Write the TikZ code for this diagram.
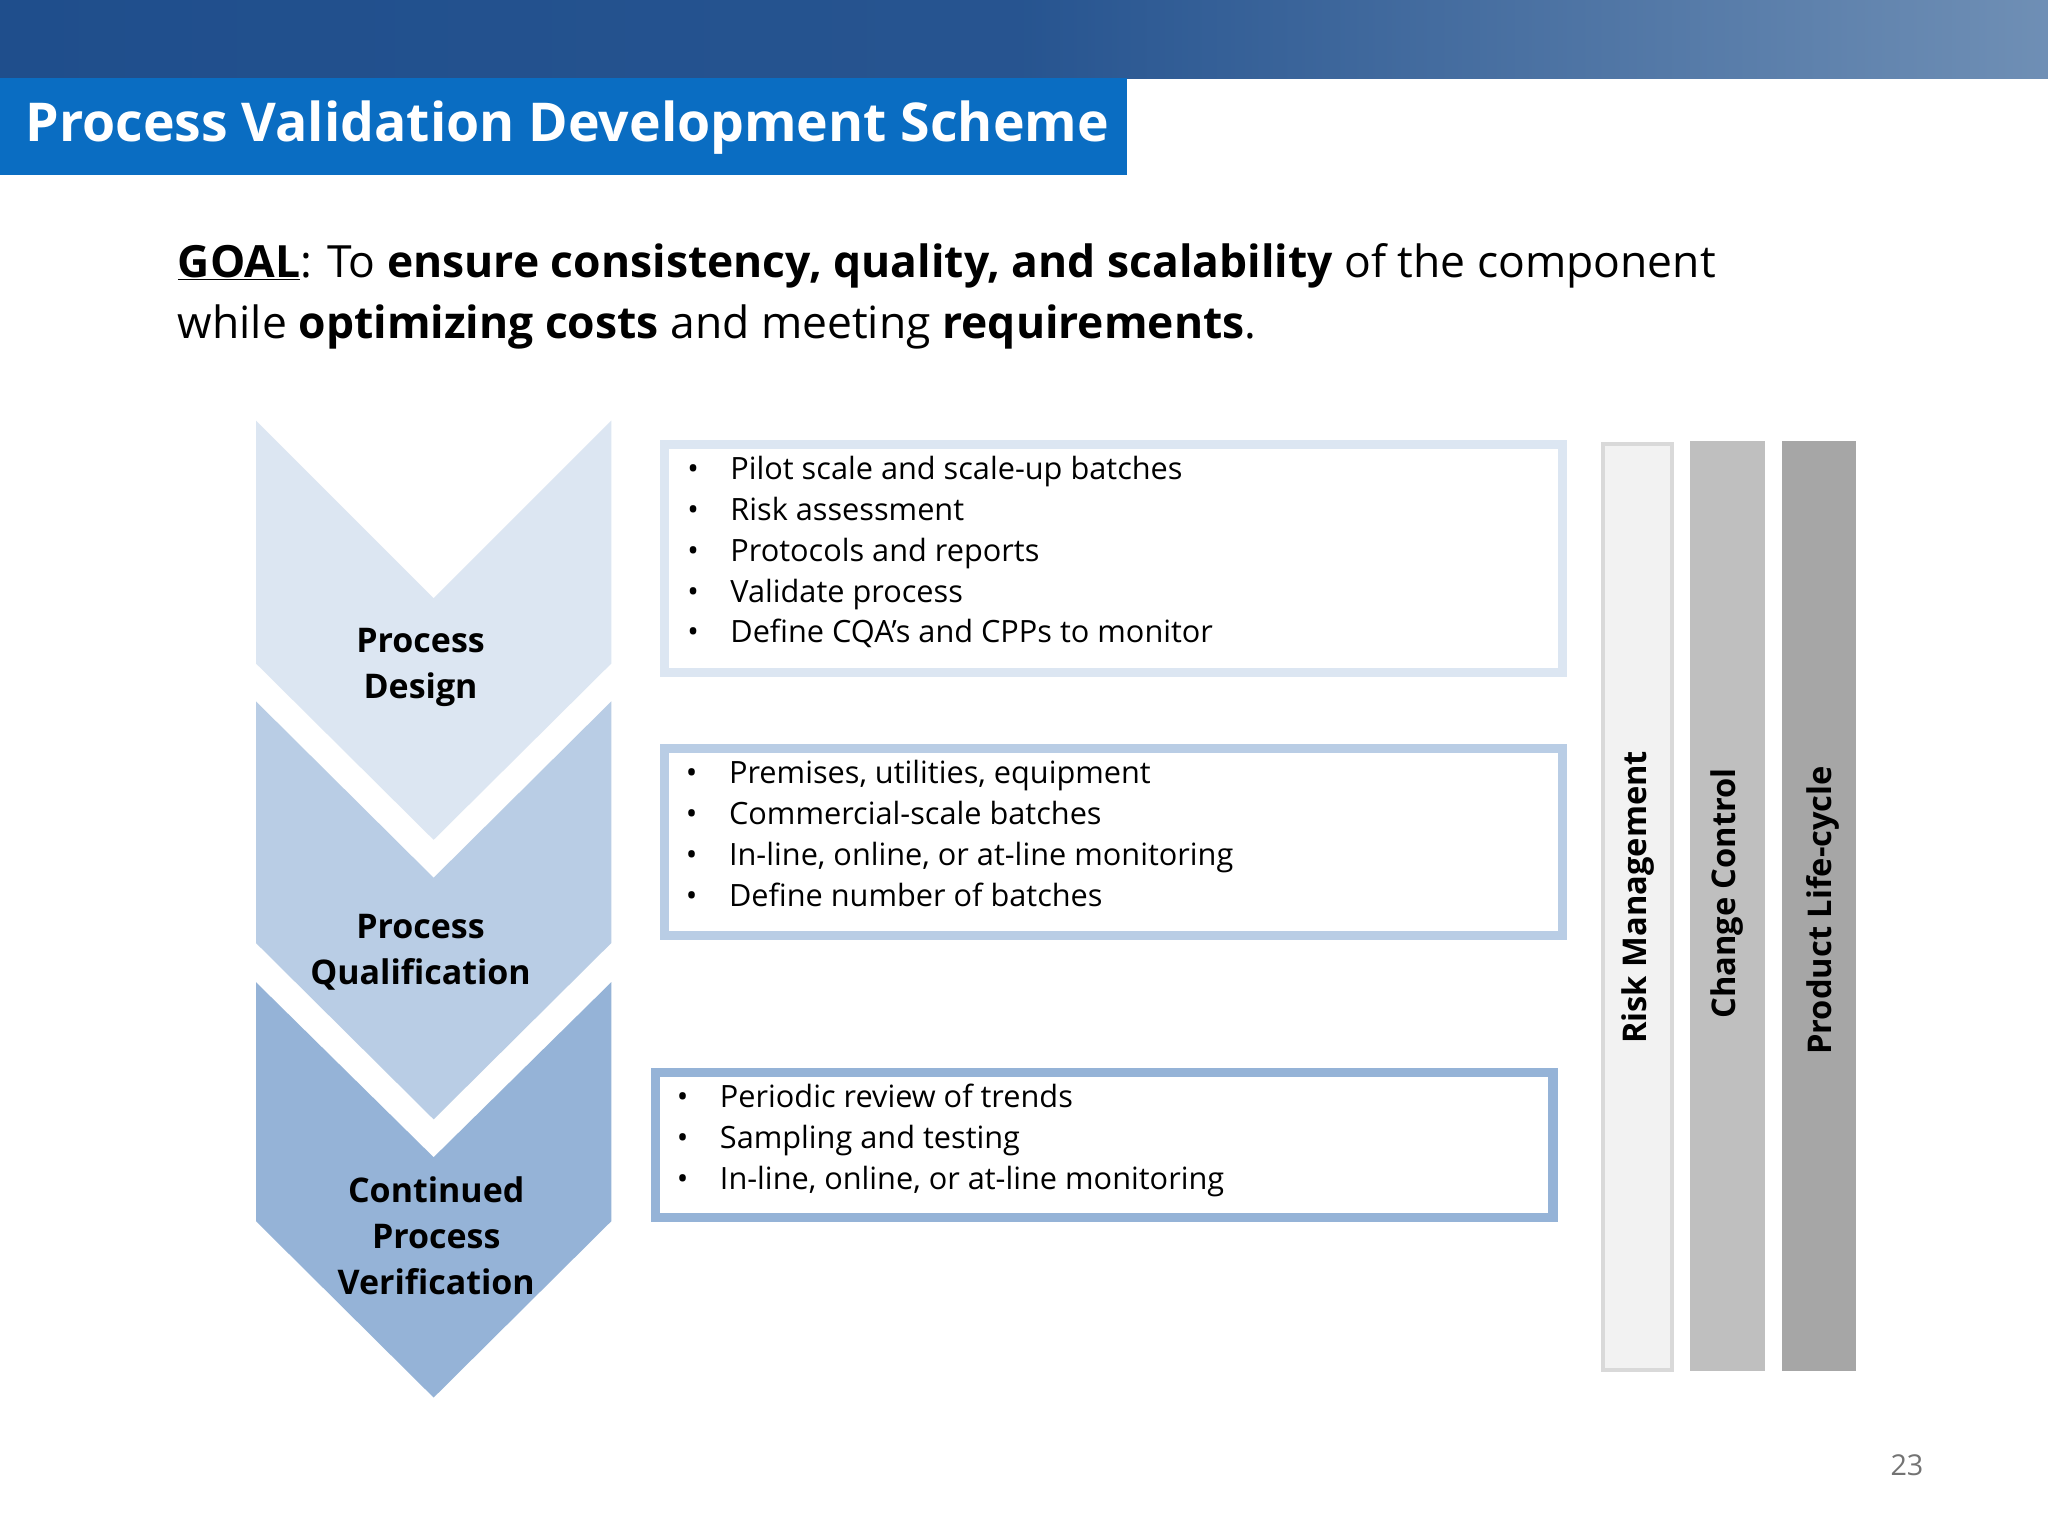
\documentclass[tikz,border=0pt]{standalone}
\usepackage{fontspec}
\setmainfont{Open Sans}
\usetikzlibrary{calc}
\definecolor{band}{HTML}{1F4E8C}
\definecolor{bandr}{HTML}{6F8FB5}
\definecolor{titlebl}{HTML}{0A6DC2}
\definecolor{cA}{HTML}{DCE6F2}
\definecolor{cB}{HTML}{B9CDE5}
\definecolor{cC}{HTML}{95B3D7}
\tikzset{
 lbl/.style={font=\fontsize{26}{35}\selectfont\bfseries,align=center,text=black},
 bl/.style={anchor=north west,font=\fontsize{23.5}{31.3}\selectfont,align=left,text=black,inner sep=0pt},
 tbox/.style={line width=7pt},
 bar/.style={line width=0pt},
 vt/.style={rotate=90,font=\fontsize{25}{30}\selectfont\bfseries,text=black}
}
\newcommand{\bul}{\makebox[33pt][l]{•}}
\begin{document}
\begin{tikzpicture}[x=1pt,y=-1pt]
\useasboundingbox (0,0) rectangle (1568,1176);
\fill[white] (0,0) rectangle (1568,1176);
\shade[left color=band,right color=bandr,middle color=band!90!bandr] (0,0) rectangle (1568,60);
\fill[titlebl] (0,60) rectangle (863,134);
\node[anchor=west,text=white,font=\fontsize{41}{48}\selectfont\bfseries] (title) at (16,98) {Process Validation Development Scheme};
\node[anchor=north west,align=left,inner sep=0pt,font=\fontsize{34}{47}\selectfont] (goal) at (136,186)
 {\textbf{\underline{GOAL}}: To \textbf{ensure consistency, quality, and scalability} of the component\\
 while \textbf{optimizing costs} and meeting \textbf{requirements}.};
% chevrons
\fill[cC] (196,752) -- (332,886) -- (468,752) -- (468,935) -- (332,1070) -- (196,935) -- cycle;
\fill[cB] (196,537) -- (332,672) -- (468,537) -- (468,722) -- (332,857) -- (196,722) -- cycle;
\fill[cA] (196,322) -- (332,458) -- (468,322) -- (468,508) -- (332,643) -- (196,508) -- cycle;
\node[lbl] (pd) at (322,511) {Process\\Design};
\node[lbl] (pq) at (322,729) {Process\\Qualification};
\node[lbl] (cpv) at (334,946) {Continued\\Process\\Verification};
% boxes
\draw[tbox,cA,fill=white] (509,340) rectangle (1196,515);
\draw[tbox,cB,fill=white] (509,573) rectangle (1196,716);
\draw[tbox,cC,fill=white] (502,821) rectangle (1189,932);
\node[bl] (t1) at (526,349) {\bul Pilot scale and scale-up batches\\\bul Risk assessment\\\bul Protocols and reports\\\bul Validate process\\\bul Define CQA’s and CPPs to monitor};
\node[bl] (t2) at (525,582) {\bul Premises, utilities, equipment\\\bul Commercial-scale batches\\\bul In-line, online, or at-line monitoring\\\bul Define number of batches};
\node[bl] (t3) at (518,830) {\bul Periodic review of trends\\\bul Sampling and testing\\\bul In-line, online, or at-line monitoring};
% bars
\draw[line width=3pt,draw=black!15,fill=black!5] (1227,340) rectangle (1280,1049);
\fill[black!25] (1294,338) rectangle (1351,1050);
\fill[black!35] (1364,338) rectangle (1421,1050);
\node[vt] (rm) at (1254,687) {Risk Management};
\node[vt] (cc) at (1322,684) {Change Control};
\node[vt] (pl) at (1396,697) {Product Life-cycle};
\node[text=black!55,font=\fontsize{22}{26}\selectfont] (pg) at (1460,1122) {23};
\end{tikzpicture}
\end{document}
